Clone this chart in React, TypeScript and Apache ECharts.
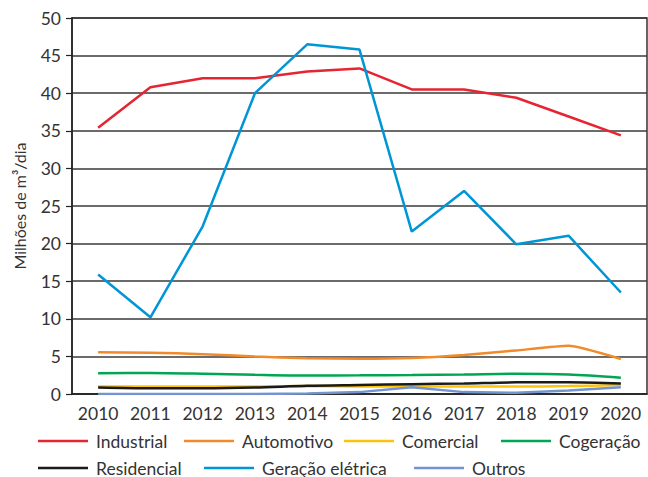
import React, { useEffect, useRef } from "react";
import * as echarts from "echarts";

const years = ["2010", "2011", "2012", "2013", "2014", "2015", "2016", "2017", "2018", "2019", "2020"];
const industrial = [35.4, 40.8, 42.0, 42.0, 42.9, 43.3, 40.5, 40.5, 39.4, 36.9, 34.4];
const automotivo = [5.55, 5.5, 5.3, 5.0, 4.75, 4.7, 4.8, 5.2, 5.8, 6.4, 4.65];
const comercial = [1.0, 1.0, 1.0, 1.0, 1.05, 1.0, 1.0, 1.0, 1.0, 1.05, 1.2];
const cogeracao = [2.75, 2.8, 2.7, 2.55, 2.45, 2.48, 2.53, 2.6, 2.7, 2.6, 2.17];
const residencial = [0.85, 0.75, 0.75, 0.85, 1.1, 1.2, 1.3, 1.4, 1.55, 1.55, 1.4];
const geracao = [15.9, 10.2, 22.3, 40.0, 46.5, 45.8, 21.6, 27.0, 19.9, 21.05, 13.5];
const outros = [0, 0, 0, 0, 0.05, 0.25, 0.9, 0.25, 0.15, 0.45, 0.9];

const FONT = "Lato";

export default function App() {
  const ref = useRef<HTMLDivElement>(null);
  useEffect(() => {
    if (!ref.current) return;
    const chart = echarts.init(ref.current, undefined, { renderer: "svg" });
    const mk = (name: string, data: number[], color: string, smooth: number | boolean) => ({
      name,
      type: "line",
      data,
      smooth,
      symbol: "none",
      lineStyle: { color, width: 2.5 },
      itemStyle: { color },
    });
    const legendItem = (name: string, left: number, top: number) => ({
      data: [name],
      left,
      top,
      padding: 0,
      icon: "rect",
      itemWidth: 50,
      itemHeight: 2.5,
      textStyle: { fontFamily: FONT, fontSize: 17.5, color: "#333", lineHeight: 20, padding: [0, 0, 0, 3] },
    });
    chart.setOption({
      animation: false,
      textStyle: { fontFamily: FONT },
      grid: {
        left: 72,
        right: 1,
        top: 18,
        bottom: 83,
        show: true,
        borderColor: "#333",
        borderWidth: 1.5,
        backgroundColor: "transparent",
      },
      legend: [
        legendItem("Industrial", 38, 431),
        legendItem("Automotivo", 184, 431),
        legendItem("Comercial", 344, 431),
        legendItem("Cogeração", 501, 431),
        legendItem("Residencial", 38, 458),
        legendItem("Geração elétrica", 204, 458),
        legendItem("Outros", 414, 458),
      ],
      xAxis: {
        type: "category",
        data: years,
        boundaryGap: true,
        axisLine: { lineStyle: { color: "#222", width: 1.5 } },
        axisTick: { alignWithLabel: true, interval: 0, length: 6, lineStyle: { color: "#222", width: 1.2 } },
        axisLabel: { interval: 0, fontFamily: FONT, fontSize: 17.5, color: "#333", margin: 10 },
      },
      yAxis: {
        type: "value",
        min: 0,
        max: 50,
        interval: 5,
        name: "Milhões de m³/dia",
        nameLocation: "middle",
        nameGap: 45,
        nameTextStyle: { fontFamily: FONT, fontSize: 16, color: "#333" },
        axisLine: { show: true, lineStyle: { color: "#222", width: 1.5 } },
        axisTick: { show: true, length: 6, lineStyle: { color: "#222", width: 1.2 } },
        axisLabel: { fontFamily: FONT, fontSize: 17.5, color: "#333", margin: 11 },
        splitLine: { show: true, lineStyle: { color: "#3a3a3a", width: 1.5 } },
      },
      series: [
        mk("Industrial", industrial, "#e52531", false),
        mk("Automotivo", automotivo, "#f18a2a", 0.15),
        mk("Comercial", comercial, "#fcc30d", 0.3),
        mk("Cogeração", cogeracao, "#00a652", 0.3),
        mk("Residencial", residencial, "#1a1a1a", 0.3),
        mk("Geração elétrica", geracao, "#0096d6", false),
        mk("Outros", outros, "#7394d0", false),
      ],
    });
    return () => chart.dispose();
  }, []);
  return <div ref={ref} style={{ width: 648, height: 477, position: "absolute", left: 0, top: 0 }} />;
}
